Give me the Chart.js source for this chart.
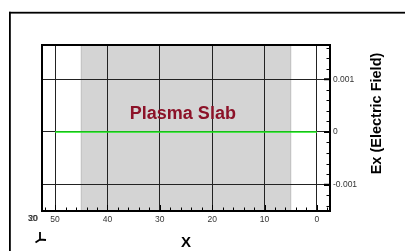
<!DOCTYPE html>
<html>
<head>
<meta charset="utf-8">
<script src="https://cdn.jsdelivr.net/npm/chart.js@4/dist/chart.umd.min.js"></script>
<style>
html, body { margin: 0; padding: 0; background: #fff; overflow: hidden; }
#wrap { width: 405px; height: 251px; position: relative; }
</style>
</head>
<body>
<div id="wrap"><canvas id="chart" width="405" height="251"></canvas></div>
<script>
// data
const xPositions = [50, 40, 30, 20, 10, 0];
const exValues = [0, 0, 0, 0, 0, 0];
const slabRange = [5, 45];
const xMajorTicks = [0, 10, 20, 30, 40, 50];
const yMajorTicks = [-0.001, 0, 0.001];
const xRange = [-2.5, 52.5];
const yRange = [-0.0015, 0.00165];
const slabLabel = 'Plasma Slab';
const slabLabelAt = [25.6, 0.00034];
const xTitle = 'X';
const yTitle = 'Ex (Electric Field)';
const strayLabels = ['30', '20'];
const strayLabelAt = 54.3;

const FONT = '"Liberation Sans", Arial, sans-serif';

const decor = {
    id: 'decor',
    beforeDraw(chart) {
        const ctx = chart.ctx;
        const a = chart.chartArea;
        const xs = chart.scales.x;
        ctx.save();
        ctx.fillStyle = '#fff';
        ctx.fillRect(0, 0, chart.width, chart.height);
        // outer frame
        ctx.fillStyle = '#000';
        ctx.fillRect(9, 11.8, 400, 1.8);
        ctx.fillRect(9, 11.8, 1.8, 300);
        // slab
        const x1 = xs.getPixelForValue(slabRange[1]);
        const x2 = xs.getPixelForValue(slabRange[0]);
        ctx.fillStyle = '#d4d4d4';
        ctx.fillRect(x1, a.top, x2 - x1, a.bottom - a.top);
        ctx.strokeStyle = '#bdbdbd';
        ctx.lineWidth = 1;
        ctx.beginPath();
        ctx.moveTo(x1, a.top); ctx.lineTo(x1, a.bottom);
        ctx.moveTo(x2, a.top); ctx.lineTo(x2, a.bottom);
        ctx.stroke();
        ctx.restore();
    },
    afterDraw(chart) {
        const ctx = chart.ctx;
        const a = chart.chartArea;
        const xs = chart.scales.x;
        const ys = chart.scales.y;
        ctx.save();
        ctx.strokeStyle = '#000';
        // minor + major ticks on the bottom axis, pointing in
        ctx.lineWidth = 1;
        ctx.beginPath();
        for (let v = -2; v <= 52; v += 2) {
            const px = Math.round(xs.getPixelForValue(v)) + 0.5;
            const len = v % 10 === 0 ? 6 : 3.5;
            ctx.moveTo(px, a.bottom);
            ctx.lineTo(px, a.bottom - len);
        }
        // right axis ticks, pointing in
        for (let i = -7; i <= 8; i++) {
            const v = i * 0.0002;
            const py = Math.round(ys.getPixelForValue(v)) + 0.5;
            ctx.moveTo(a.right, py);
            ctx.lineTo(a.right - (i % 5 === 0 ? 6 : 3.5), py);
        }
        ctx.stroke();
        ctx.lineWidth = 2;
        ctx.beginPath();
        yMajorTicks.forEach(v => {
            const py = ys.getPixelForValue(v);
            ctx.moveTo(a.right, py);
            ctx.lineTo(a.right - 6, py);
        });
        ctx.stroke();
        // plot border
        ctx.lineWidth = 2;
        ctx.strokeRect(a.left, a.top, a.right - a.left, a.bottom - a.top);

        // slab label
        ctx.fillStyle = '#8c1228';
        ctx.font = 'bold 18px ' + FONT;
        ctx.textAlign = 'center';
        ctx.textBaseline = 'middle';
        ctx.fillText(slabLabel, xs.getPixelForValue(slabLabelAt[0]), ys.getPixelForValue(slabLabelAt[1]));

        // axis titles
        ctx.fillStyle = '#000';
        ctx.font = 'bold 15px ' + FONT;
        ctx.fillText(xTitle, (a.left + a.right) / 2, 243);
        ctx.save();
        ctx.translate(377, 113.5);
        ctx.rotate(-Math.PI / 2);
        ctx.font = 'bold 14.5px ' + FONT;
        ctx.fillText(yTitle, 0, 0);
        ctx.restore();

        // overlapping stray labels at far left
        ctx.font = '8.5px ' + FONT;
        ctx.fillStyle = '#333';
        strayLabels.forEach((t, i) => ctx.fillText(t, xs.getPixelForValue(strayLabelAt) + i * 0.6, 218.5));

        // small axis triad
        ctx.strokeStyle = '#000';
        ctx.lineWidth = 1.8;
        ctx.beginPath();
        ctx.moveTo(40, 232); ctx.lineTo(40, 239.5);
        ctx.lineTo(35.5, 242.5);
        ctx.moveTo(40, 239.5); ctx.lineTo(46, 240);
        ctx.stroke();
        ctx.restore();
    }
};

new Chart(document.getElementById('chart'), {
    type: 'scatter',
    data: {
        datasets: [{
            data: xPositions.map((x, i) => ({ x: x, y: exValues[i] })),
            showLine: true,
            borderColor: '#1aee1a',
            borderWidth: 1.5,
            pointRadius: 0
        }]
    },
    options: {
        responsive: false,
        animation: false,
        devicePixelRatio: 1,
        layout: { padding: { left: 42, top: 45, right: 0, bottom: 0 } },
        plugins: { legend: { display: false }, tooltip: { enabled: false } },
        scales: {
            x: {
                type: 'linear',
                reverse: true,
                min: xRange[0],
                max: xRange[1],
                afterFit: s => { s.height = 40; },
                afterBuildTicks: s => { s.ticks = xMajorTicks.map(v => ({ value: v })); },
                grid: { color: '#222', lineWidth: 1, drawTicks: false },
                border: { display: false },
                ticks: {
                    autoSkip: false, maxRotation: 0, padding: 4,
                    color: '#333', font: { family: FONT, size: 8.5 }
                }
            },
            y: {
                type: 'linear',
                position: 'right',
                min: yRange[0],
                max: yRange[1],
                afterFit: s => { s.width = 75; },
                afterBuildTicks: s => { s.ticks = yMajorTicks.map(v => ({ value: v })); },
                grid: { color: '#222', lineWidth: 1, drawTicks: false },
                border: { display: false },
                ticks: {
                    padding: 3,
                    color: '#333', font: { family: FONT, size: 8.5 },
                    callback: v => String(Math.round(v * 1000) / 1000)
                }
            }
        }
    },
    plugins: [decor]
});
</script>
</body>
</html>
